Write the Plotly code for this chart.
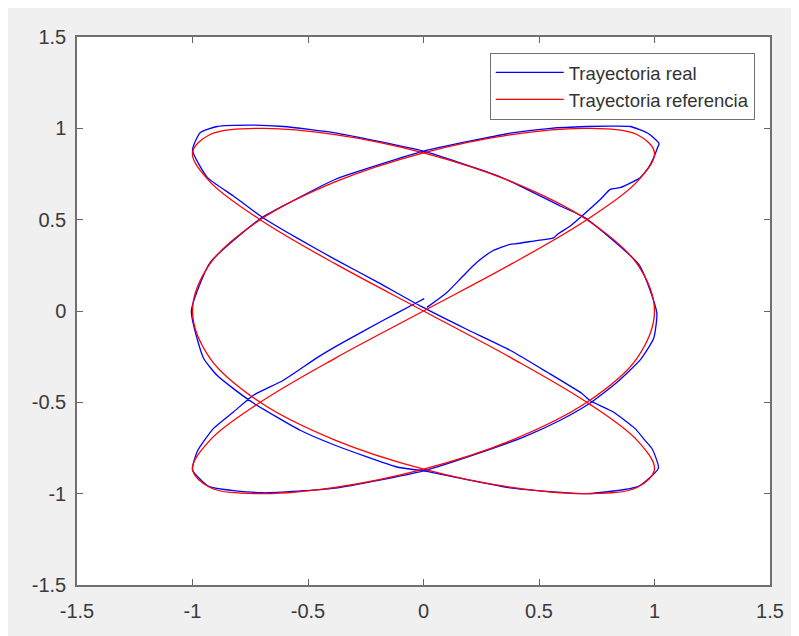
import plotly.graph_objects as go

# Reference trajectory
ref_x = [0, 0.383, 0.707, 0.924, 1, 0.924, 0.707, 0.383, 0, -0.383, -0.707, -0.924, -1,
         -0.924, -0.707, -0.383, 0, 0.383, 0.707, 0.924, 1, 0.924, 0.707, 0.383, 0,
         -0.383, -0.707, -0.924, -1, -0.924, -0.707, -0.383, 0, 0.383, 0.707, 0.924, 1,
         0.924, 0.707, 0.383, 0, -0.383, -0.707, -0.924, -1, -0.924, -0.707, -0.383, 0]
ref_y = [0, 0.259, 0.5, 0.707, 0.866, 0.966, 1, 0.966, 0.866, 0.707, 0.5, 0.259, 0,
         -0.259, -0.5, -0.707, -0.866, -0.966, -1, -0.966, -0.866, -0.707, -0.5, -0.259, 0,
         0.259, 0.5, 0.707, 0.866, 0.966, 1, 0.966, 0.866, 0.707, 0.5, 0.259, 0,
         -0.259, -0.5, -0.707, -0.866, -0.966, -1, -0.966, -0.866, -0.707, -0.5, -0.259, 0]

# Real trajectory
real_x = [0.015, 0.10, 0.17, 0.23, 0.30, 0.375, 0.40, 0.476, 0.563, 0.58, 0.635, 0.686,
          0.765, 0.808, 0.85, 0.91, 0.938, 0.974, 1.0, 1.015, 1.02, 0.99, 0.967, 0.895,
          0.80, 0.707, 0.55, 0.383, 0.2, 0, -0.383, -0.59, -0.707, -0.924, -1.005,
          -0.952, -0.894, -0.823, -0.735, -0.534, -0.383, -0.115, 0, 0.383, 0.707, 0.93,
          1.017, 0.989, 0.958, 0.916, 0.822, 0.72, 0.686, 0.534, 0.375, 0.18, -0.01,
          -0.195, -0.383, -0.548, -0.70, -0.823, -0.935, -1.0, -0.967, -0.894, -0.75,
          -0.606, -0.383, -0.2, 0, 0.332, 0.592, 0.70, 0.935, 1.01, 0.996, 0.94, 0.838,
          0.72, 0.592, 0.433, 0.253, 0, -0.383, -0.70, -0.93, -1.0, -0.98, -0.91,
          -0.823, -0.736, -0.606, -0.46, -0.36, -0.18, -0.043, 0.003]
real_y = [0.02, 0.10, 0.19, 0.265, 0.33, 0.365, 0.368, 0.383, 0.40, 0.42, 0.465, 0.52,
          0.61, 0.666, 0.675, 0.71, 0.73, 0.785, 0.85, 0.90, 0.915, 0.955, 0.976, 1.01,
          1.012, 1.01, 1.0, 0.975, 0.93, 0.875, 0.72, 0.587, 0.505, 0.265, 0,
          -0.259, -0.352, -0.425, -0.505, -0.653, -0.735, -0.854, -0.875, -0.97, -1.0,
          -0.96, -0.86, -0.753, -0.707, -0.644, -0.553, -0.49, -0.452, -0.334, -0.215,
          -0.096, 0.025, 0.155, 0.283, 0.40, 0.515, 0.63, 0.73, 0.88, 0.976, 1.01, 1.018,
          1.01, 0.975, 0.93, 0.875, 0.735, 0.575, 0.51, 0.25, -0.01, -0.151, -0.265, -0.39,
          -0.505, -0.598, -0.69, -0.772, -0.875, -0.97, -0.995, -0.96, -0.87, -0.77, -0.644,
          -0.553, -0.461, -0.379, -0.255, -0.18, -0.055, 0.037, 0.068]

tick_vals = [-1.5, -1, -0.5, 0, 0.5, 1, 1.5]
tick_text = ["-1.5", "-1", "-0.5", "0", "0.5", "1", "1.5"]

series_names = ["Trayectoria real", "Trayectoria referencia"]

fig = go.Figure()
fig.add_trace(go.Scatter(x=real_x, y=real_y, mode="lines", name=series_names[0],
                         line=dict(color="#0000ff", width=1.3, shape="spline", smoothing=0.5)))
fig.add_trace(go.Scatter(x=ref_x, y=ref_y, mode="lines", name=series_names[1],
                         line=dict(color="#ff0000", width=1.3, shape="spline", smoothing=1.0)))

axis_common = dict(
    range=[-1.5, 1.5], tickvals=tick_vals, ticktext=tick_text,
    ticks="inside", ticklen=6, tickwidth=1, tickcolor="#666666",
    showline=True, linecolor="#707070", linewidth=1.5, mirror="ticks",
    showgrid=False, zeroline=False,
    tickfont=dict(family="Liberation Sans, Arial", size=20, color="#3a3a3a"),
)

fig.update_layout(
    width=799, height=636,
    margin=dict(l=69, r=37, t=29, b=59),
    paper_bgcolor="#f0f0f0", plot_bgcolor="#ffffff",
    xaxis=dict(**axis_common, ticklabelstandoff=7),
    yaxis=dict(**axis_common, ticklabelstandoff=5),
    showlegend=True,
    legend=dict(
        x=0.978, y=0.971, xanchor="right", yanchor="top",
        bgcolor="#ffffff", bordercolor="#707070", borderwidth=1,
        font=dict(family="Liberation Sans, Arial", size=18.5, color="#333333"),
        tracegroupgap=0, itemwidth=68,
    ),
)

fig.write_html("out.html")
